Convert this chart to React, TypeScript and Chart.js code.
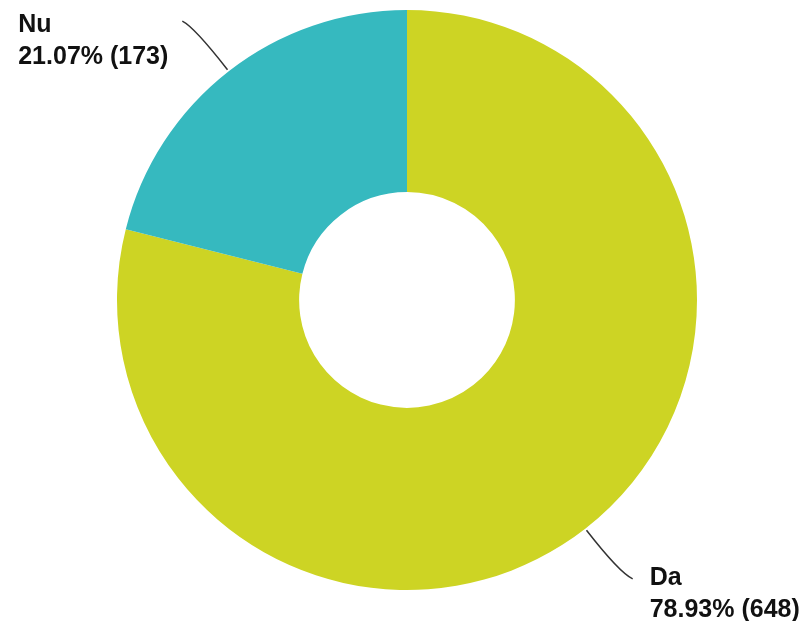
import React, { useEffect, useRef } from "react";
import { Chart, registerables } from "chart.js";

Chart.register(...registerables);

const categories = ["Da", "Nu"];
const counts = [648, 173];
const percentLabels = ["78.93%", "21.07%"];
const colors = ["#cdd424", "#36b9bf"];

const leaderLabels = {
  id: "leaderLabels",
  afterDatasetsDraw(chart: any) {
    const ctx = chart.ctx;
    const meta = chart.getDatasetMeta(0);
    ctx.save();
    meta.data.forEach((arc: any, i: number) => {
      const p = arc.getProps(["x", "y", "startAngle", "endAngle", "outerRadius"], true);
      const mid = (p.startAngle + p.endAngle) / 2;
      const cos = Math.cos(mid);
      const sin = Math.sin(mid);
      const x0 = p.x + cos * (p.outerRadius + 2);
      const y0 = p.y + sin * (p.outerRadius + 2);
      const cx = p.x + cos * (p.outerRadius + 56);
      const cy = p.y + sin * (p.outerRadius + 56);
      const right = cos >= 0;
      const ex = cx + (right ? 13 : -12);
      const ey = cy + (sin >= 0 ? 6 : -6);
      ctx.beginPath();
      ctx.moveTo(x0, y0);
      ctx.quadraticCurveTo(cx, cy, ex, ey);
      ctx.strokeStyle = "#333333";
      ctx.lineWidth = 1.5;
      ctx.stroke();

      ctx.font = "bold 25px Arial, 'Liberation Sans', sans-serif";
      ctx.fillStyle = "#111111";
      ctx.textAlign = "left";
      ctx.textBaseline = "alphabetic";
      const line1 = categories[i];
      const line2 = `${percentLabels[i]} (${counts[i]})`;
      const w = Math.max(ctx.measureText(line1).width, ctx.measureText(line2).width);
      const tx = right ? ex + 17 : ex - 14 - w;
      const base = ey + (right ? 6 : 11);
      ctx.fillText(line1, tx, base);
      ctx.fillText(line2, tx, base + 32);
    });
    ctx.restore();
  },
};

export default function App() {
  const ref = useRef<HTMLCanvasElement | null>(null);
  useEffect(() => {
    document.body.style.margin = "0";
    const canvas = ref.current;
    if (!canvas) return;
    const chart = new Chart(canvas, {
      type: "doughnut",
      data: {
        labels: categories,
        datasets: [
          {
            data: counts,
            backgroundColor: colors,
            borderWidth: 0,
            hoverOffset: 0,
          },
        ],
      },
      options: {
        responsive: false,
        animation: false,
        cutout: "37.2%",
        layout: { padding: { top: 10, bottom: 31, left: 10, right: 0 } },
        plugins: {
          legend: { display: false },
          tooltip: { enabled: false },
        },
      },
      plugins: [leaderLabels],
    });
    return () => chart.destroy();
  }, []);
  return (
    <div style={{ width: 804, height: 621, background: "#ffffff" }}>
      <canvas ref={ref} width={804} height={621} />
    </div>
  );
}
